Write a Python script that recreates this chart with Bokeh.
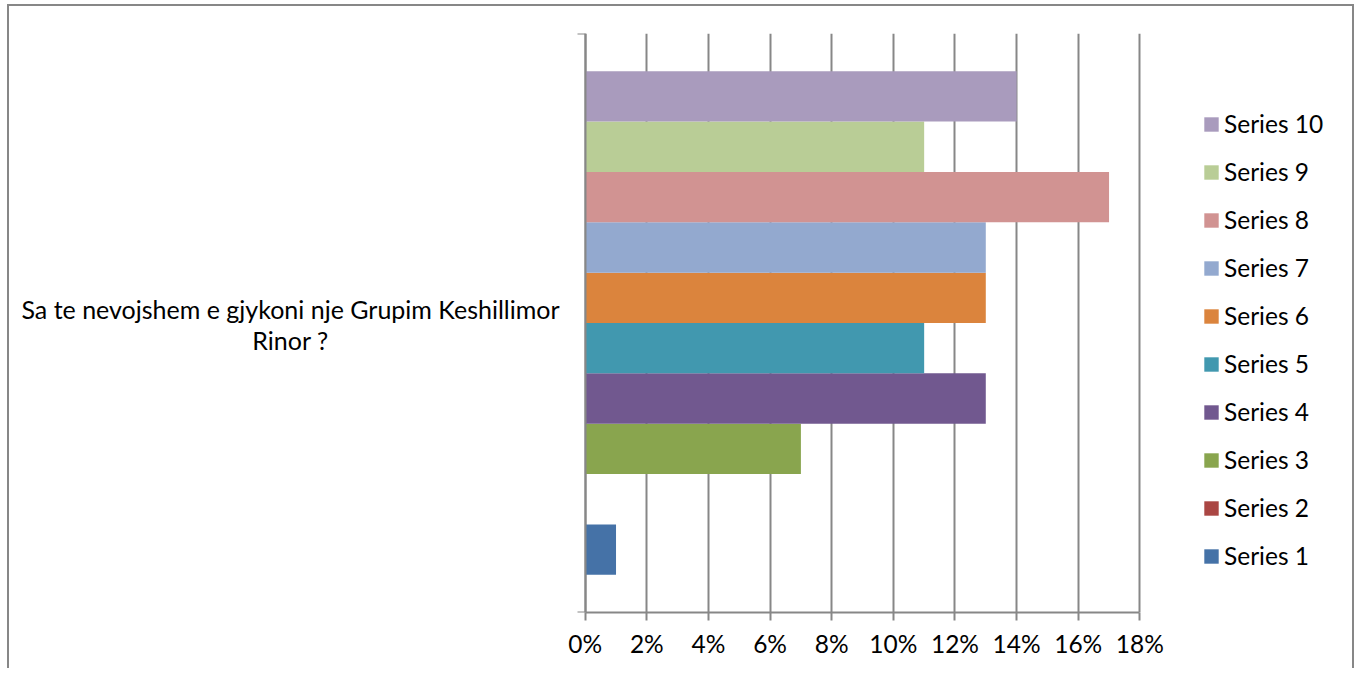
from bokeh.plotting import figure
from bokeh.models import (Range1d, FixedTicker, NumeralTickFormatter, Legend,
                          LegendItem, Label, ColumnDataSource)
from bokeh.transform import dodge
from bokeh.embed import file_html
from bokeh.resources import INLINE

# ---- data ----
categories = ["Sa te nevojshem e gjykoni nje Grupim Keshillimor\nRinor ?"]
series_names = ["Series 1", "Series 2", "Series 3", "Series 4", "Series 5",
                "Series 6", "Series 7", "Series 8", "Series 9", "Series 10"]
series_values = [0.01, 0.00, 0.07, 0.13, 0.11, 0.13, 0.13, 0.17, 0.11, 0.14]
series_colors = ["#4572A7", "#AA4643", "#89A54E", "#71588F", "#4198AF",
                 "#DB843D", "#93A9CF", "#D19392", "#B9CD96", "#A99BBD"]
x_ticks = [0.0, 0.02, 0.04, 0.06, 0.08, 0.10, 0.12, 0.14, 0.16, 0.18]
x_max = 0.18

FONT = "Lato"
FS = "24.5px"
GRAY = "#878787"

# ---- layout (pixels) ----
W, H = 1347, 664            # host size (border-box)
CANVAS_W = W - 4            # minus left/right borders
AXIS_PX = 574               # x=0 position inside the canvas
DATA_PX = 553               # pixel length of 0 .. x_max
ppu = DATA_PX / x_max

n_cat = len(categories)
p = figure(width=W, height=H,
           y_range=Range1d(-0.5, n_cat - 0.5),
           x_range=Range1d(-AXIS_PX / ppu, (CANVAS_W - AXIS_PX) / ppu),
           output_backend="svg", toolbar_location=None)
p.min_border_left = 0
p.min_border_right = 0
p.min_border_top = 27
p.min_border_bottom = 58
p.outline_line_color = None
p.styles = {"border-left": "2px solid #878787",
            "border-top": "2px solid #878787",
            "border-right": "2px solid #878787",
            "margin-left": "7px",
            "margin-top": "4px"}

n = len(series_names)
gap = 1.5
bar_h = 1.0 / (n + gap)

renderers = []
for i, (name, val, col) in enumerate(zip(series_names, series_values, series_colors)):
    src = ColumnDataSource(dict(y=[0], right=[val]))
    off = -0.5 + (gap / 2) * bar_h + (i + 0.5) * bar_h
    r = p.hbar(y=dodge("y", off), left=0, right="right",
               height=bar_h, source=src, fill_color=col, line_color=None)
    renderers.append(r)

# x axis
ax = p.xaxis[0]
ax.bounds = (0, x_max)
ax.ticker = FixedTicker(ticks=x_ticks)
ax.formatter = NumeralTickFormatter(format="0%")
ax.axis_line_color = GRAY
ax.axis_line_width = 2
ax.major_tick_line_color = GRAY
ax.major_tick_line_width = 2
ax.major_tick_out = 8
ax.major_tick_in = 0
ax.minor_tick_line_color = None
ax.major_label_text_font = FONT
ax.major_label_text_font_size = FS
ax.major_label_text_color = "#000000"
ax.major_label_standoff = 8

p.xgrid.ticker = FixedTicker(ticks=x_ticks)
p.xgrid.grid_line_color = GRAY
p.xgrid.grid_line_width = 2
p.ygrid.visible = False

# category axis at x = 0, ticks at the band edges
band_edges = [-0.5, n_cat - 0.5]
yax = p.yaxis[0]
yax.fixed_location = 0
yax.ticker = FixedTicker(ticks=band_edges)
yax.major_label_overrides = {t: "" for t in band_edges}
yax.major_label_standoff = 0
yax.major_tick_out = 8
yax.major_tick_in = 0
yax.minor_tick_line_color = None
yax.axis_line_color = GRAY
yax.axis_line_width = 2
yax.major_tick_line_color = GRAY
yax.major_tick_line_width = 2

# category label
lbl = Label(x=281, y=288, x_units="screen", y_units="screen",
            text=categories[0], text_align="center", text_baseline="middle",
            text_font=FONT, text_font_size="25px", text_color="#000000",
            text_line_height=1.03)
p.add_layout(lbl)

# legend (reversed order)
items = [LegendItem(label=series_names[i], renderers=[renderers[i]])
         for i in reversed(range(n))]
legend = Legend(items=items, location=(1193, 42),
                glyph_width=18, glyph_height=18, label_height=20,
                label_standoff=4, spacing=19, padding=0, margin=0,
                label_text_font=FONT, label_text_font_size=FS,
                label_text_color="#000000",
                border_line_color=None, background_fill_alpha=0)
p.add_layout(legend)

open("out.html", "w").write(file_html(p, INLINE))
